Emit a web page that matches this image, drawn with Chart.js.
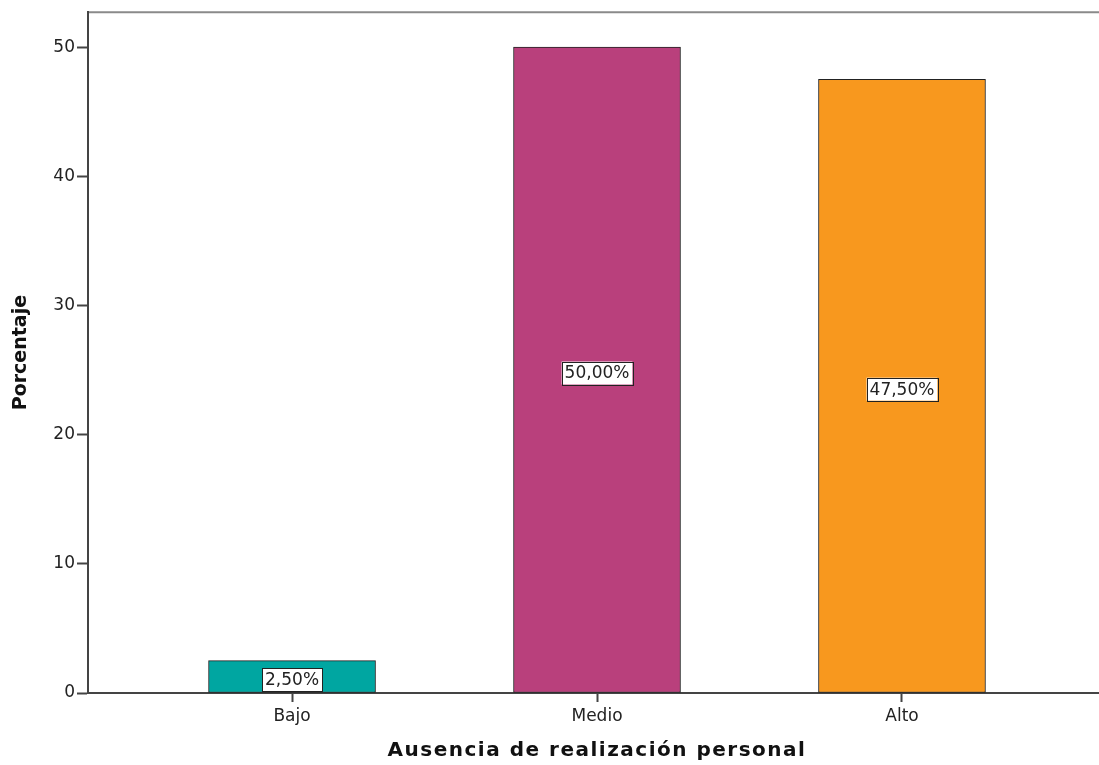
<!DOCTYPE html>
<html>
<head>
<meta charset="utf-8">
<script src="https://cdn.jsdelivr.net/npm/chart.js@4"></script>
<style>
  html, body { margin: 0; padding: 0; background: #fff; }
  #wrap { width: 1099px; height: 765px; }
</style>
</head>
<body>
<div id="wrap"><canvas id="chart"></canvas></div>
<script>
"use strict";

// ---------- Data ----------
const categories = ["Bajo", "Medio", "Alto"];
const percentages = [2.5, 50.0, 47.5];
const barColors = ["#00a6a1", "#b9407c", "#f8981e"];
const yTicks = [0, 10, 20, 30, 40, 50];
const xTitle = "Ausencia de realización personal";

const FONT = "'DejaVu Sans', Verdana, sans-serif";
const AXIS = "#444";

// ---------- Plugins ----------
const frame = {
  id: "frame",
  beforeDraw(chart) {
    const { ctx, chartArea: a } = chart;
    ctx.save();
    ctx.fillStyle = "#fff";
    ctx.fillRect(0, 0, chart.width, chart.height);
    ctx.strokeStyle = "#8a8a8a";
    ctx.lineWidth = 2;
    ctx.beginPath();
    ctx.moveTo(a.left - 1, a.top);
    ctx.lineTo(chart.width, a.top);
    ctx.stroke();
    ctx.restore();
  },
  afterDraw(chart) {
    // x title, SPSS draws it a bit letter-spaced
    const { ctx } = chart;
    const x = chart.scales.x;
    ctx.save();
    ctx.font = `bold 20px ${FONT}`;
    ctx.letterSpacing = "1.5px";
    ctx.fillStyle = "#111";
    ctx.textAlign = "center";
    ctx.textBaseline = "middle";
    ctx.fillText(xTitle, x.getPixelForValue(1), 751);
    ctx.restore();
  },
};

const valueLabels = {
  id: "valueLabels",
  afterDatasetsDraw(chart) {
    const { ctx } = chart;
    const y = chart.scales.y;
    const meta = chart.getDatasetMeta(0);
    ctx.save();
    ctx.font = `17px ${FONT}`;
    ctx.textAlign = "center";
    ctx.textBaseline = "middle";
    meta.data.forEach((bar, i) => {
      const text = percentages[i].toFixed(2).replace(".", ",") + "%";
      const cy = y.getPixelForValue(percentages[i] / 2) + 3;
      const w = ctx.measureText(text).width + 6;
      const h = 23;
      ctx.fillStyle = "#fff";
      ctx.fillRect(bar.x - w / 2, cy - h / 2, w, h);
      ctx.strokeStyle = "#222";
      ctx.lineWidth = 1;
      ctx.strokeRect(Math.round(bar.x - w / 2) + 0.5, Math.round(cy - h / 2) + 0.5, Math.round(w), h);
      ctx.fillStyle = "#222";
      ctx.fillText(text, bar.x, cy + 1);
    });
    ctx.restore();
  },
};

// ---------- Chart ----------
new Chart(document.getElementById("chart"), {
  type: "bar",
  data: {
    datasets: [{
      data: percentages.map((v, i) => ({ x: i, y: v })),
      backgroundColor: barColors,
      borderColor: "#222",
      borderWidth: 1,
      borderSkipped: false,
      barThickness: 167,
    }],
  },
  options: {
    responsive: true,
    maintainAspectRatio: false,
    animation: false,
    layout: { padding: { top: 11, right: 0, left: 0, bottom: 0 } },
    plugins: { legend: { display: false }, tooltip: { enabled: false } },
    scales: {
      x: {
        type: "linear",
        offset: false,
        min: -0.669,
        max: 2.646,
        afterBuildTicks: (s) => { s.ticks = categories.map((_, i) => ({ value: i })); },
        afterFit: (s) => { s.height = 72; },
        ticks: {
          callback: (v) => categories[v],
          color: "#222",
          font: { family: FONT, size: 17 },
          padding: 4,
          maxRotation: 0,
        },
        grid: { offset: false, drawOnChartArea: false, color: AXIS, tickLength: 9, tickWidth: 2 },
        border: { color: AXIS, width: 2 },
      },
      y: {
        min: 0,
        max: 52.7,
        afterBuildTicks: (s) => { s.ticks = yTicks.map((v) => ({ value: v })); },
        afterFit: (s) => { s.width = 88; },
        ticks: {
          color: "#222",
          font: { family: FONT, size: 17 },
          padding: 2,
        },
        grid: { drawOnChartArea: false, color: AXIS, tickLength: 11, tickWidth: 2 },
        border: { color: AXIS, width: 2 },
        title: {
          display: true,
          text: "Porcentaje",
          color: "#111",
          font: { family: FONT, size: 19, weight: "bold" },
          padding: { top: 10, bottom: 0 },
        },
      },
    },
  },
  plugins: [frame, valueLabels],
});
</script>
</body>
</html>
